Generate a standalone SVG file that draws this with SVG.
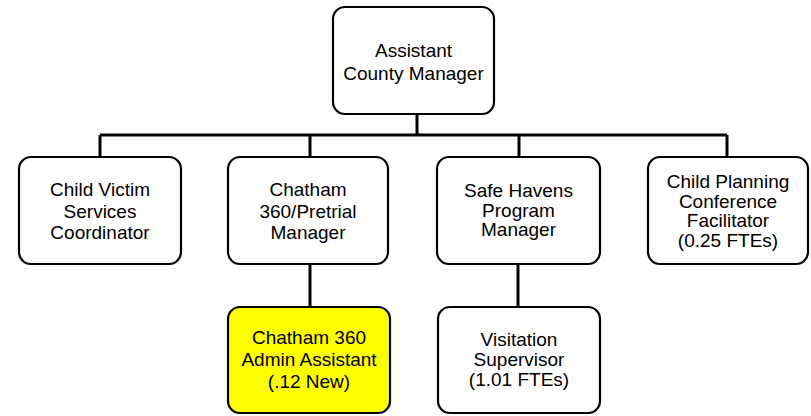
<svg xmlns="http://www.w3.org/2000/svg" width="811" height="416" viewBox="0 0 811 416">
<style>
.box{fill:#fff;stroke:#000;stroke-width:2.2}
.hl{fill:#ffff00}
.t{font-family:"Liberation Sans",Arial,sans-serif;font-size:19px;fill:#000;text-anchor:middle}
.c{fill:none;stroke:#000;stroke-width:3}
</style>
<rect width="811" height="416" fill="#fff"/>
<g id="connectors">
<path class="c" d="M417 114V135M100 135H727M100 135V157M310 135V157M519 135V157M727 135V157M310 264V307M518 264V307"/>
</g>
<g id="n-acm">
<rect class="box" x="333" y="7" width="161" height="107" rx="12"/>
<text class="t" x="413.5" y="57">Assistant</text>
<text class="t" x="413.5" y="80">County Manager</text>
</g>
<g id="n-cvsc">
<rect class="box" x="19" y="157" width="162" height="107" rx="12"/>
<text class="t" x="100" y="196">Child Victim</text>
<text class="t" x="100" y="217.5">Services</text>
<text class="t" x="100" y="239">Coordinator</text>
</g>
<g id="n-c360">
<rect class="box" x="228" y="157" width="160" height="107" rx="12"/>
<text class="t" x="308" y="196">Chatham</text>
<text class="t" x="308" y="217.5">360/Pretrial</text>
<text class="t" x="308" y="239">Manager</text>
</g>
<g id="n-shpm">
<rect class="box" x="437" y="157" width="163" height="107" rx="12"/>
<text class="t" x="518.5" y="197">Safe Havens</text>
<text class="t" x="518.5" y="216.5">Program</text>
<text class="t" x="518.5" y="236">Manager</text>
</g>
<g id="n-cpcf">
<rect class="box" x="648" y="157" width="160" height="107" rx="12"/>
<text class="t" x="728" y="188">Child Planning</text>
<text class="t" x="728" y="207.5">Conference</text>
<text class="t" x="728" y="227">Facilitator</text>
<text class="t" x="728" y="246.5">(0.25 FTEs)</text>
</g>
<g id="n-caa">
<rect class="box hl" x="228" y="307" width="162" height="106" rx="12"/>
<text class="t" x="309" y="344">Chatham 360</text>
<text class="t" x="309" y="366">Admin Assistant</text>
<text class="t" x="309" y="388">(.12 New)</text>
</g>
<g id="n-vs">
<rect class="box" x="438" y="307" width="162" height="106" rx="12"/>
<text class="t" x="519" y="346">Visitation</text>
<text class="t" x="519" y="366">Supervisor</text>
<text class="t" x="519" y="386">(1.01 FTEs)</text>
</g>
</svg>
